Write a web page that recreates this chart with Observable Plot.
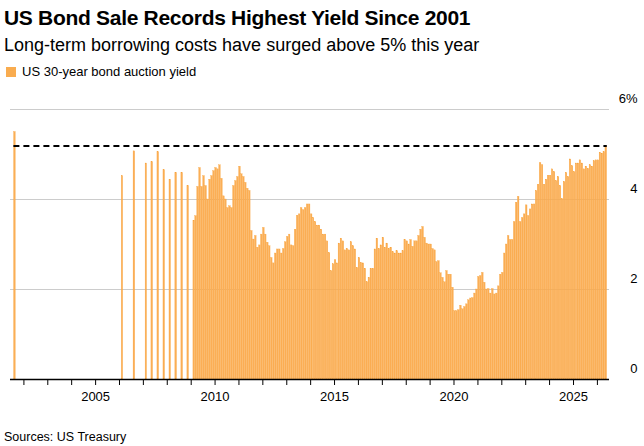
<!DOCTYPE html>
<html><head><meta charset="utf-8">
<script src="https://cdn.jsdelivr.net/npm/d3@7"></script>
<script src="https://cdn.jsdelivr.net/npm/@observablehq/plot@0.6"></script>
<style>
body{margin:0;background:#fff;font-family:"Liberation Sans",Arial,sans-serif;color:#000}
#wrap{width:644px;position:relative}
h1{font-size:21px;font-weight:bold;margin:0;padding:6px 0 0 4px;letter-spacing:-0.3px}
.sub{font-size:18px;padding:5px 0 0 4px}
.leg{font-size:13px;padding:8px 0 0 6px;display:flex;align-items:center}
.leg span.sw{display:inline-block;width:10px;height:10px;background:#f9ac4f;margin-right:6px}
.src{font-size:12.5px;padding:2px 0 0 4px}
</style></head><body>
<div id="wrap">
<h1>US Bond Sale Records Highest Yield Since 2001</h1>
<div class="sub">Long-term borrowing costs have surged above 5% this year</div>
<div class="leg"><span class="sw"></span>US 30-year bond auction yield</div>
<div id="chart"></div>
<div class="src">Sources: US Treasury</div>
</div>
<script>
const earlyDates = ["2001-08","2006-02","2006-08","2007-02","2007-05","2007-08","2007-11","2008-02","2008-05","2008-08","2008-11","2009-02","2009-03"];
const earlyYields = [5.50,4.52,5.07,4.80,4.83,5.05,4.65,4.44,4.59,4.59,4.30,3.53,3.63];
const monthlyStart = "2009-04";
const monthlyYields = [
4.28,4.70,4.28,4.52,4.30,4.00,4.44,4.52,4.63,
4.70,4.67,4.76,4.46,4.07,4.00,3.81,3.85,3.81,4.30,4.41,4.50,
4.73,4.56,4.50,4.37,4.24,4.19,3.30,3.11,3.19,2.93,2.98,3.22,
3.37,3.22,3.04,2.96,2.70,2.58,2.80,2.89,2.89,2.80,2.90,3.05,
3.17,3.22,2.98,2.96,3.33,3.64,3.67,3.81,3.76,3.81,3.89,3.89,
3.67,3.59,3.50,3.42,3.42,3.33,3.22,3.22,3.07,
2.81,2.41,2.56,2.65,2.58,3.02,3.13,3.07,2.87,2.90,2.87,3.05,2.96,2.89,
2.48,2.70,2.59,2.58,2.46,2.16,2.26,2.46,2.46,2.89,3.13,2.90,2.98,3.15,
2.93,3.02,2.90,2.93,2.83,2.80,2.85,2.80,2.80,2.85,3.10,3.07,3.00,3.10,
2.95,3.07,3.07,3.19,3.33,3.39,3.15,3.02,3.00,3.00,2.90,2.87,2.61,2.63,
2.36,2.26,2.16,2.41,2.33,2.33,2.04,1.52,1.52,1.54,1.64,1.56,1.61,1.67,
1.76,1.80,1.81,1.91,2.00,2.28,2.30,2.37,2.15,2.00,2.01,1.91,2.01,1.89,
1.91,2.07,2.33,2.37,2.80,3.00,3.19,3.10,3.10,3.50,3.93,4.06,3.50,3.59,
3.67,3.87,3.63,3.78,3.89,3.89,4.19,4.33,4.81,4.76,4.33,4.44,4.53,4.53,
4.67,4.61,4.41,4.50,4.30,4.01,4.39,4.59,4.50,4.89,4.74,4.61,4.80,4.80,
4.87,4.80,4.67,4.73,4.68,4.76,4.73,4.85,4.87,4.87,5.04,5.02,5.05,5.19];
const recordLevel = 5.19;
const yTicks = [0,2,4,6];

const parse = d3.utcParse("%Y-%m");
const data = earlyDates.map((d,i)=>({date:parse(d),y:earlyYields[i]}));
const s = parse(monthlyStart);
monthlyYields.forEach((v,i)=>data.push({date:d3.utcMonth.offset(s,i),y:v}));
data.forEach(d=>d.end=d3.utcMonth.offset(d.date,1));

const x0 = new Date(Date.UTC(2001,5,10)), x1 = new Date(Date.UTC(2026,6,5));
const chart = Plot.plot({
  width:644,height:349,marginTop:30,marginBottom:49,marginLeft:10,marginRight:35,
  style:{fontFamily:"Liberation Sans, Arial, sans-serif",fontSize:"13px",color:"#000",overflow:"visible"},
  x:{type:"utc",domain:[x0,x1]},
  y:{domain:[0,6],axis:null},
  marks:[
    Plot.gridY(yTicks,{stroke:"#ccc",strokeOpacity:1}),
    Plot.rectY(data,{x1:"date",x2:"end",y:"y",fill:"#fbae55",stroke:"#f7a23a",strokeWidth:0.3,insetLeft:0.2,insetRight:0.2}),
    Plot.ruleY([recordLevel],{x1:new Date(Date.UTC(2001,7,1)),x2:new Date(Date.UTC(2026,5,1)),stroke:"#000",strokeWidth:2,strokeDasharray:"6,4"}),
    Plot.ruleY([0],{stroke:"#000",strokeWidth:1.3}),
    Plot.axisX(d3.utcYears(new Date(Date.UTC(2002,0,1)),new Date(Date.UTC(2027,0,1))),{tickSize:6,tickPadding:6,tickFormat:d=>d.getUTCFullYear()%5===0?String(d.getUTCFullYear()):"",label:null,stroke:"#000"}),
    Plot.text(yTicks,{x:x1,y:d=>d,text:d=>d===6?"6%":String(d),textAnchor:"end",dx:28,dy:-11,fontSize:13})
  ]
});
document.getElementById("chart").appendChild(chart);
</script>
</body></html>
